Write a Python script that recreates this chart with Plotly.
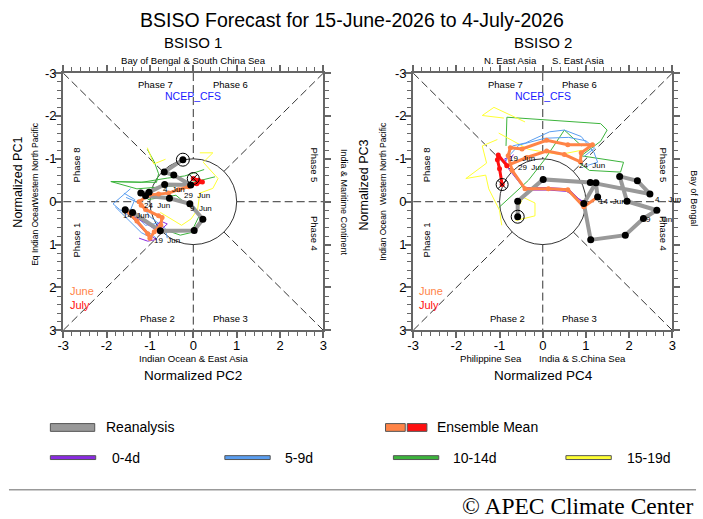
import plotly.graph_objects as go
import numpy as np

W, H = 703, 519

# ---------------- DATA ----------------
# BSISO 1 (x = PC2, y = PC1)
L_REA_X = [-0.24, -0.67, -0.45, -0.06, -0.66, -1.02, -1.21, -1.10, -0.55, -0.08, 0.22, 0.02, -0.76, -1.40, -1.57]
L_REA_Y = [-0.98, -0.69, -0.62, -0.39, -0.40, -0.22, -0.20, -0.14, -0.08, 0.05, 0.41, 0.67, 0.68, 0.25, 0.19]
L_JUNE_X = [-1.57, -1.30, -1.05, -1.00, -0.90, -0.75, -0.72, -0.80, -1.10, -1.20, -1.25, -1.02, -0.80, -0.57, -0.34, -0.11, -0.06]
L_JUNE_Y = [0.19, 0.45, 0.75, 0.85, 0.70, 0.55, 0.37, 0.33, 0.18, 0.08, 0.00, -0.16, -0.18, -0.20, -0.28, -0.35, -0.39]
L_JULY_X = [-0.06, 0.08, 0.21, 0.12, 0.00]
L_JULY_Y = [-0.39, -0.42, -0.46, -0.50, -0.54]
L_PURPLE = [
    [(-1.5, 0.25), (-1.3, 0.5), (-1.1, 0.72), (-0.85, 0.88), (-1.05, 0.92), (-1.25, 0.85)],
    [(-1.45, 0.3), (-1.1, 0.5), (-0.8, 0.7), (-0.6, 0.52), (-0.75, 0.45), (-0.88, 0.6)],
]
L_BLUE = [
    [(-1.45, -0.3), (-1.85, 0.05), (-1.7, 0.18), (-1.3, 0.45), (-1.05, 0.7), (-0.85, 0.85)],
    [(-1.55, -0.1), (-1.2, 0.05), (-1.0, 0.35), (-0.65, 0.62), (-0.6, 0.85)],
    [(-1.8, 0.12), (-1.5, 0.42), (-1.2, 0.72), (-0.95, 0.85)],
    [(-1.6, -0.2), (-1.35, -0.05), (-1.45, 0.2), (-1.1, 0.55), (-0.8, 0.5)],
]
L_GREEN = [
    [(-1.06, -1.22), (-0.9, -0.93), (-0.8, -0.65), (-0.85, -0.45), (-1.9, -0.47), (-1.3, -0.3),
     (-0.3, -0.38), (0.2, -0.5), (0.5, -0.58)],
    [(-1.05, -0.05), (-0.4, -0.15), (0.15, 0.3), (-0.05, 0.72), (-0.3, 0.78), (-0.75, 0.62)],
    [(-1.9, -0.47), (-1.2, -0.45), (-0.6, -0.55), (-0.2, -0.6), (0.25, -0.75)],
]
L_YELLOW = [
    [(-1.06, -1.26), (-0.91, -0.88), (-0.64, -0.99)],
    [(0.15, -1.14), (0.45, -1.14), (0.23, -0.92), (0.57, -0.54), (0.45, -0.31), (0.15, -0.2),
     (0.1, 0.18), (-0.05, 0.4), (-0.27, 0.55), (-0.5, 0.4), (-0.76, 0.25)],
]
L_DATES = [("4  Jun", -0.45, -0.29), ("29  Jun", 0.09, -0.14), ("9  Jun", 0.17, 0.15),
           ("24  Jun", -0.84, 0.09), ("14  Jun", -1.33, 0.31), ("19  Jun", -0.6, 0.91)]

# BSISO 2 (x = PC4, y = PC3)
R_REA_X = [-0.58, -0.58, 0.01, 1.10, 2.48, 2.19, 1.78, 1.95, 2.64, 2.33, 1.91, 1.11, 0.95, 1.23, 1.27]
R_REA_Y = [0.35, -0.01, -0.52, -0.45, -0.18, -0.49, -0.59, -0.01, 0.20, 0.39, 0.78, 0.89, 0.04, -0.44, -0.11]
R_JUNE_X = [1.27, 0.95, 0.58, 0.13, -0.41, -0.71, -0.80, -0.75, -0.48, 0.09, 0.58, 1.15, 0.89, 0.87, 0.50, 0.09, -0.37, -0.83]
R_JUNE_Y = [-0.11, 0.12, -0.28, -0.30, -0.30, -0.73, -1.07, -1.26, -1.23, -1.43, -1.33, -1.33, -1.14, -0.93, -1.10, -1.18, -1.03, -0.84]
R_JULY_X = [-0.83, -1.03, -1.05, -1.00, -0.94]
R_JULY_Y = [-0.84, -1.09, -0.98, -0.77, -0.40]
R_PURPLE = [
    [(0.95, 0.05), (0.6, -0.3), (0.1, -0.33), (-0.45, -0.33), (-0.78, -0.75), (-0.88, -1.0), (-0.75, -1.05)],
    [(0.98, 0.02), (0.55, -0.24), (0.15, -0.27), (-0.38, -0.27), (-0.68, -0.66), (-0.78, -0.95), (-0.68, -1.1)],
]
R_BLUE = [
    [(-0.85, -0.95), (-0.7, -1.3), (-0.4, -1.37), (0.16, -1.63), (0.5, -1.67), (0.89, -1.52),
     (1.19, -1.14), (1.27, -0.92), (1.05, -0.85)],
    [(-0.8, -1.05), (-0.55, -1.32), (0.05, -1.48), (0.6, -1.5), (1.0, -1.42), (1.2, -1.25), (0.95, -1.05)],
]
R_GREEN = [
    [(-0.85, -1.3), (-0.83, -1.97), (1.34, -1.82), (1.49, -1.67), (1.34, -1.41), (0.89, -1.07),
     (1.87, -0.92), (1.8, -0.69), (1.08, -0.73), (0.85, -0.9)],
    [(-1.02, 0.14), (-0.33, -0.5), (0.05, -0.99), (0.5, -1.67), (0.9, -1.3)],
]
R_YELLOW = [
    [(-0.41, -1.86), (-1.13, -2.2), (-1.4, -2.01), (-0.9, -1.95)],
    [(-1.02, -1.6), (-0.33, -1.22), (0.4, -1.1), (0.9, -1.2)],
    [(-1.05, -1.45), (-1.4, -1.3), (-1.3, -0.9), (-1.78, -0.54), (-1.32, -0.62), (-1.25, -0.3),
     (-1.0, 0.2), (-0.95, 0.55)],
    [(-0.63, 0.44), (-0.18, 0.33), (-0.18, 0.03), (-0.45, -0.1), (-0.55, 0.1)],
]
R_DATES = [("19  Jun", -0.48, -1.0), ("29  Jun", -0.28, -0.8), ("24  Jun", 1.15, -0.84),
           ("14 -Jun", 1.61, 0.0), ("4    Jun", 2.9, -0.05), ("9    Jun", 2.68, 0.41)]

TICKS = [-3, -2, -1, 0, 1, 2, 3]
TICK_TEXT = ["-3", "-2", "-1", "0", "1", "2", "3"]

C_PURPLE, C_BLUE, C_GREEN, C_YELLOW = "#8A2BE2", "#5A9EF0", "#3CB43C", "#FFFF33"
C_ORANGE, C_RED, C_GRAY = "#FF8447", "#FF1010", "#999999"
FONT = "Liberation Sans, Arial, sans-serif"

fig = go.Figure()


def add_members(groups, color, xa, ya):
    for line in groups:
        fig.add_trace(go.Scatter(x=[p[0] for p in line], y=[p[1] for p in line], mode="lines",
                                 line=dict(color=color, width=1), xaxis=xa, yaxis=ya,
                                 showlegend=False, hoverinfo="skip"))


def add_panel(xa, ya, purple, blue, green, yellow, rx, ry, jx, jy, ux, uy):
    add_members(green, C_GREEN, xa, ya)
    add_members(yellow, C_YELLOW, xa, ya)
    add_members(blue, C_BLUE, xa, ya)
    add_members(purple, C_PURPLE, xa, ya)
    fig.add_trace(go.Scatter(x=rx, y=ry, mode="lines", line=dict(color=C_GRAY, width=4),
                             xaxis=xa, yaxis=ya, showlegend=False))
    fig.add_trace(go.Scatter(x=jx, y=jy, mode="lines+markers", line=dict(color=C_ORANGE, width=3),
                             marker=dict(size=5, color=C_ORANGE), xaxis=xa, yaxis=ya, showlegend=False))
    fig.add_trace(go.Scatter(x=ux, y=uy, mode="lines+markers", line=dict(color=C_RED, width=3),
                             marker=dict(size=5, color=C_RED), xaxis=xa, yaxis=ya, showlegend=False))
    fig.add_trace(go.Scatter(x=rx, y=ry, mode="markers", marker=dict(size=7, color="black"),
                             xaxis=xa, yaxis=ya, showlegend=False))
    fig.add_trace(go.Scatter(x=[rx[0]], y=[ry[0]], mode="markers",
                             marker=dict(size=13, symbol="circle-open", color="black", line=dict(width=1)),
                             xaxis=xa, yaxis=ya, showlegend=False))
    fig.add_trace(go.Scatter(x=[ux[-1]], y=[uy[-1]], mode="markers",
                             marker=dict(size=12, symbol="circle-x-open", color="black", line=dict(width=1)),
                             xaxis=xa, yaxis=ya, showlegend=False))


add_panel("x", "y", L_PURPLE, L_BLUE, L_GREEN, L_YELLOW, L_REA_X, L_REA_Y, L_JUNE_X, L_JUNE_Y, L_JULY_X, L_JULY_Y)
add_panel("x2", "y2", R_PURPLE, R_BLUE, R_GREEN, R_YELLOW, R_REA_X, R_REA_Y, R_JUNE_X, R_JUNE_Y, R_JULY_X, R_JULY_Y)

shapes = []
annotations = []
s2 = np.sqrt(0.5)
for xr, yr in (("x", "y"), ("x2", "y2")):
    dash = dict(color="black", width=0.8, dash="8px,4px")
    segs = [(-3, -3, -s2, -s2), (3, -3, s2, -s2), (-3, 3, -s2, s2), (3, 3, s2, s2),
            (-3, 0, -1, 0), (1, 0, 3, 0), (0, -3, 0, -1), (0, 1, 0, 3)]
    for a, b, c, d in segs:
        shapes.append(dict(type="line", xref=xr, yref=yr, x0=a, y0=b, x1=c, y1=d, line=dash, layer="below"))
    shapes.append(dict(type="circle", xref=xr, yref=yr, x0=-1, y0=-1, x1=1, y1=1,
                       line=dict(color="black", width=0.8), layer="below"))

    def da(text, x, y, size=9.5, color="black", angle=0, xanchor="center"):
        annotations.append(dict(text=text, x=x, y=y, xref=xr, yref=yr, showarrow=False, textangle=angle,
                                xanchor=xanchor, yanchor="middle", font=dict(size=size, color=color, family=FONT)))
    da("Phase 7", -0.87, -2.73)
    da("Phase 6", 0.86, -2.73)
    da("NCEP_CFS", 0.0, -2.46, size=10.5, color="#1a1aff")
    da("Phase 8", -2.7, -0.85, angle=-90)
    da("Phase 5", 2.8, -0.85, angle=90)
    da("Phase 1", -2.7, 0.9, angle=-90)
    da("Phase 4", 2.78, 0.75, angle=90)
    da("Phase 2", -0.82, 2.73)
    da("Phase 3", 0.86, 2.73)
    da("June", -2.9, 2.09, size=11, color=C_ORANGE, xanchor="left")
    da("July", -2.9, 2.41, size=11, color=C_RED, xanchor="left")
    dates = L_DATES if xr == "x" else R_DATES
    for t, x, y in dates:
        da(t, x, y, size=8)


def pa(text, px, py, size=9.6, angle=0, xanchor="center", family=FONT, color="black"):
    annotations.append(dict(text=text, x=px / W, y=1 - py / H, xref="paper", yref="paper", showarrow=False,
                            textangle=angle, xanchor=xanchor, yanchor="middle",
                            font=dict(size=size, color=color, family=family)))


pa("BSISO Forecast for 15-June-2026 to 4-July-2026", 351, 13, size=19.5)
pa("BSISO 1", 190, 37, size=15)
pa("BSISO 2", 545, 37, size=15)
pa("Bay of Bengal & South China Sea", 190, 55)
pa("N. East Asia", 512, 55)
pa("S. East Asia", 580, 55)
pa("Indian Ocean & East Asia", 190, 362)
pa("Philippine Sea", 492, 362)
pa("India & S.China Sea", 585, 362)
pa("Normalized PC2", 190, 379, size=13.5)
pa("Normalized PC4", 545, 379, size=13.5)
pa("Normalized PC1", 12, 180, size=12.5, angle=-90)
pa("Normalized PC3", 363, 183, size=12.5, angle=-90)
pa("Western North Pacific", 30, 161, size=8.5, angle=-90)
pa("Eq Indian Ocean", 30, 234, size=8.5, angle=-90)
pa("Western North Pacific", 383, 161, size=8.5, angle=-90)
pa("Indian Ocean", 383, 235, size=8.5, angle=-90)
pa("India & Maritime Continent", 343, 201, size=9, angle=90)
pa("Bay of Bengal", 698, 197, size=9, angle=90)

# legend
def prect(x0, y0, x1, y1, fill):
    shapes.append(dict(type="rect", xref="paper", yref="paper", x0=x0 / W, x1=x1 / W, y0=1 - y1 / H, y1=1 - y0 / H,
                       fillcolor=fill, line=dict(color="#555555", width=1)))


prect(45, 429, 90, 437, C_GRAY)
pa("Reanalysis", 99, 433, size=14, xanchor="left")
prect(385, 429, 405, 437, C_ORANGE)
prect(407, 429, 427, 437, C_RED)
pa("Ensemble Mean", 435, 433, size=14, xanchor="left")
for x0, col, lab, tx in ((45, C_PURPLE, "0-4d", 105), (222, C_BLUE, "5-9d", 281),
                         (393, C_GREEN, "10-14d", 451), (568, C_YELLOW, "15-19d", 628)):
    prect(x0, 462, x0 + 46, 466, col)
    pa(lab, tx, 464, size=14, xanchor="left")
shapes.append(dict(type="line", xref="paper", yref="paper", x0=3 / W, x1=700 / W, y0=1 - 497 / H, y1=1 - 497 / H,
                   line=dict(color="#999999", width=1.5)))
pa("© APEC Climate Center", 699, 514, size=23.5, xanchor="right", family="Liberation Serif, Times New Roman, serif")

minor_vals = [round(v, 1) for v in np.arange(-3, 3.01, 0.2) if abs(v - round(v)) > 1e-6]


def axis(domain, anchor, rng):
    return dict(domain=domain, anchor=anchor, range=rng, tickmode="array", tickvals=TICKS, ticktext=TICK_TEXT,
                ticks="outside", ticklen=6, tickwidth=1.5, tickcolor="#666666", showline=True, linecolor="#666666",
                linewidth=2, mirror="ticks", showgrid=False, zeroline=False, ticklabelstandoff=-4,
                tickfont=dict(size=13, family=FONT, color="black"),
                minor=dict(tickmode="array", tickvals=minor_vals, ticks="outside", ticklen=4, tickwidth=1,
                           tickcolor="#666666", showgrid=False))


ydom = [1 - 333 / H, 1 - 68 / H]
fig.update_layout(
    width=W, height=H, autosize=False, margin=dict(l=0, r=0, t=0, b=0),
    paper_bgcolor="white", plot_bgcolor="white", showlegend=False,
    xaxis=axis([58 / W, 322 / W], "y", [-3, 3]),
    yaxis=axis(ydom, "x", [3, -3]),
    xaxis2=axis([413 / W, 676 / W], "y2", [-3, 3]),
    yaxis2=axis(ydom, "x2", [3, -3]),
    shapes=shapes, annotations=annotations,
)
fig.write_html("out.html")
